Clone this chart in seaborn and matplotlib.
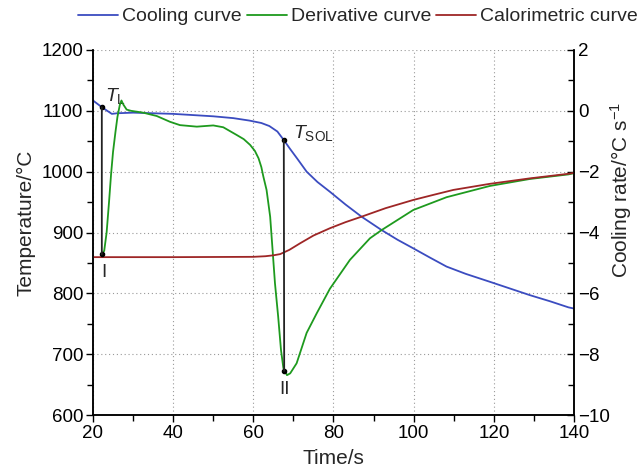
import matplotlib
matplotlib.use("Agg")
import matplotlib.pyplot as plt
from matplotlib.patches import ConnectionPatch
from matplotlib.ticker import MultipleLocator
import seaborn as sns

# ---- data ----
cool_t = [20, 22.2, 24.7, 26, 30, 35, 40, 45, 50, 55, 59, 62, 64, 66, 67.6, 69.1, 71, 73.3,
          76, 79.1, 83, 87, 92, 96, 99.9, 104, 108.2, 113, 119, 124, 129, 134, 138.6, 140]
cool_T = [1117, 1106, 1095, 1096, 1097, 1096, 1095, 1093, 1091, 1088, 1084, 1080, 1075, 1066,
          1052, 1038, 1021, 1000, 983, 967, 946, 926, 904, 888, 874, 859, 844, 832, 819, 808,
          797, 787, 777, 775]

deriv_t = [22.2, 22.8, 23.4, 24.0, 24.5, 25.0, 25.6, 26.1, 26.7, 27.1, 27.6, 28.4, 29.5, 32.5,
           35.9, 39.2, 41.7, 45.9, 50, 52.5, 55.8, 57.6, 59.2, 60.4, 61.3, 62.0, 62.5, 63.3,
           64.2, 64.8, 65.4, 66.2, 66.9, 67.5, 68.4, 69.2, 70.8, 73.3, 75.8, 79.1, 84.1, 89.1,
           92, 99.9, 108.2, 119, 129, 138.6, 140]
deriv_r = [-4.72, -4.6, -4.0, -3.0, -2.1, -1.35, -0.7, -0.2, 0.2, 0.34, 0.2, 0.04, 0.0, -0.06,
           -0.17, -0.36, -0.47, -0.52, -0.48, -0.54, -0.79, -0.93, -1.12, -1.32, -1.56, -1.85,
           -2.16, -2.6, -3.48, -4.57, -5.67, -6.77, -7.86, -8.46, -8.69, -8.63, -8.3, -7.3,
           -6.66, -5.85, -4.9, -4.19, -3.92, -3.26, -2.84, -2.47, -2.24, -2.09, -2.05]

cal_t = [20, 40, 60, 63, 65, 66.7, 69, 71.6, 75, 79.1, 83, 87, 93, 99.9, 105, 109.9, 119,
         129, 138.6, 140]
cal_r = [-4.81, -4.81, -4.80, -4.78, -4.75, -4.71, -4.57, -4.36, -4.1, -3.86, -3.66, -3.48,
         -3.2, -2.93, -2.76, -2.6, -2.40, -2.22, -2.07, -2.04]

# characteristic points: (time, temperature) on cooling curve, (time, rate) on derivative
tl_pt = (22.2, 1106)
pt_I = (22.2, -4.72)
tsol_pt = (67.6, 1052)
pt_II = (67.7, -8.55)

blue, green, red = "#3b4cc0", "#1e9a1e", "#9e2626"

sns.set_style("ticks")
plt.rcParams["font.family"] = ["Liberation Sans", "DejaVu Sans"]
plt.rcParams["mathtext.fontset"] = "custom"
plt.rcParams["mathtext.rm"] = "Liberation Sans"
plt.rcParams["mathtext.it"] = "Liberation Sans:italic"

fig = plt.figure(figsize=(6.44, 4.73), dpi=100)
ax = fig.add_axes([0.1444, 0.1226, 0.7469, 0.7717])
ax2 = ax.twinx()

sns.lineplot(x=cool_t, y=cool_T, ax=ax, color=blue, lw=1.3, sort=False, label="Cooling curve", legend=False)
sns.lineplot(x=deriv_t, y=deriv_r, ax=ax2, color=green, lw=1.3, sort=False, label="Derivative curve", legend=False)
sns.lineplot(x=cal_t, y=cal_r, ax=ax2, color=red, lw=1.3, sort=False, label="Calorimetric curve", legend=False)

ax.set_xlim(20, 140)
ax.set_ylim(600, 1200)
ax2.set_ylim(-10, 2)

ax.xaxis.set_major_locator(MultipleLocator(20))
ax.xaxis.set_minor_locator(MultipleLocator(10))
ax.yaxis.set_major_locator(MultipleLocator(100))
ax.yaxis.set_minor_locator(MultipleLocator(50))
ax2.yaxis.set_major_locator(MultipleLocator(2))
ax2.yaxis.set_minor_locator(MultipleLocator(1))

ax.grid(True, which="major", ls=(0, (1, 2.5)), color="#999999", lw=0.8)
ax.set_axisbelow(True)

for a in (ax, ax2):
    a.spines["top"].set_visible(False)
    for s in a.spines.values():
        s.set_linewidth(1.1)
        s.set_color("black")
ax.tick_params(which="both", direction="out", labelsize=13.5, width=1, colors="black")
ax.tick_params(which="major", length=5, pad=2)
ax.tick_params(which="minor", length=4)
ax2.tick_params(which="both", direction="in", labelsize=13.5, width=1, colors="black")
ax2.tick_params(which="major", length=5, pad=3)
ax2.tick_params(which="minor", length=4)

ax.set_xlabel("Time/s", fontsize=15, labelpad=5)
ax.set_ylabel("Temperature/°C", fontsize=15)
ax2.set_ylabel("Cooling rate/°C s$^{-1}$", fontsize=15)
ax.yaxis.set_label_coords(-0.12, 0.526)
ax2.yaxis.set_label_coords(1.071, 0.616)

# connecting lines between cooling-curve points and derivative points
for top, bot in ((tl_pt, pt_I), (tsol_pt, pt_II)):
    con = ConnectionPatch(xyA=top, coordsA=ax.transData, xyB=bot, coordsB=ax2.transData,
                          color="#222222", lw=1.3, zorder=5)
    fig.add_artist(con)
    ax.plot([top[0]], [top[1]], "o", color="black", ms=3, zorder=6)
    ax2.plot([bot[0]], [bot[1]], "o", color="black", ms=3, zorder=6)

ax.text(23.0, 1124, "$T_{\\mathrm{L}}$", fontsize=14, va="center", ha="left")
ax.text(69.8, 1064, "$T_{\\mathrm{SOL}}$", fontsize=14, va="center", ha="left")
ax2.text(22.8, -5.3, "I", fontsize=13.5, ha="center", va="center")
ax2.text(67.7, -9.15, "II", fontsize=13.5, ha="center", va="center")

h1, l1 = ax.get_legend_handles_labels()
h2, l2 = ax2.get_legend_handles_labels()
fig.legend(h1 + h2, l1 + l2, loc="upper center", bbox_to_anchor=(0.556, 1.008), ncol=3,
           frameon=False, fontsize=14, handlelength=2.06, handletextpad=0.2, columnspacing=0.25,
           borderaxespad=0.2)

fig.savefig("out.png", dpi=100)
